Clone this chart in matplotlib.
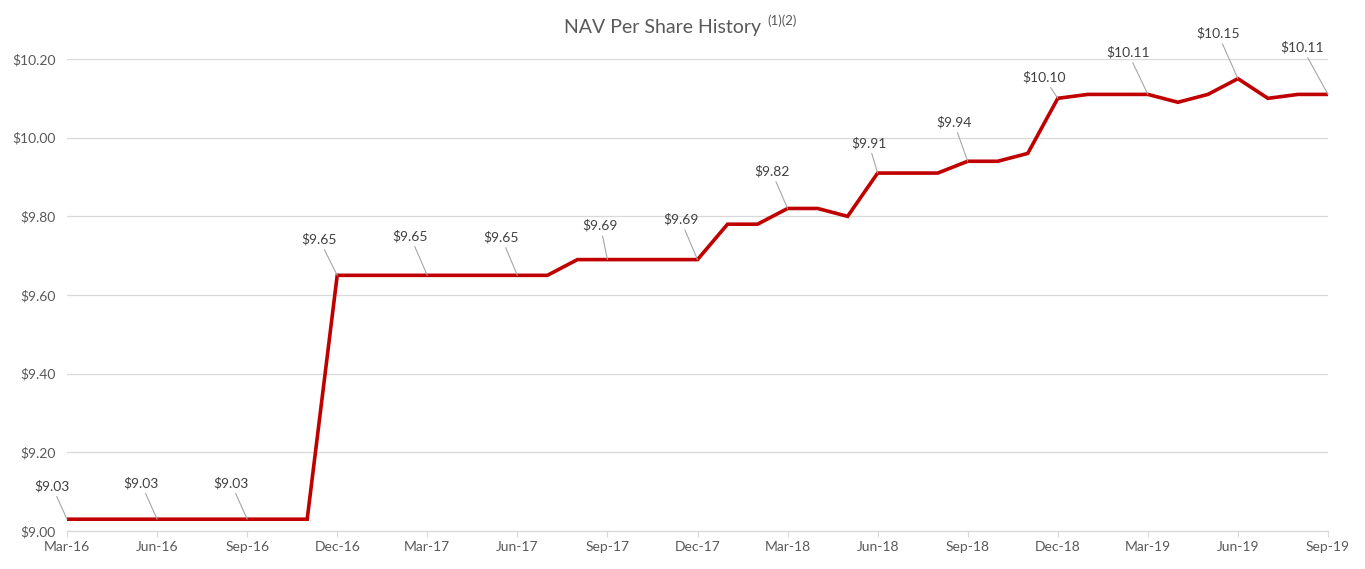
import matplotlib
matplotlib.use('Agg')
import matplotlib.pyplot as plt

# monthly NAV per share, Mar-16 .. Sep-19
months = ['Mar-16', 'Apr-16', 'May-16', 'Jun-16', 'Jul-16', 'Aug-16', 'Sep-16',
          'Oct-16', 'Nov-16', 'Dec-16', 'Jan-17', 'Feb-17', 'Mar-17', 'Apr-17',
          'May-17', 'Jun-17', 'Jul-17', 'Aug-17', 'Sep-17', 'Oct-17', 'Nov-17',
          'Dec-17', 'Jan-18', 'Feb-18', 'Mar-18', 'Apr-18', 'May-18', 'Jun-18',
          'Jul-18', 'Aug-18', 'Sep-18', 'Oct-18', 'Nov-18', 'Dec-18', 'Jan-19',
          'Feb-19', 'Mar-19', 'Apr-19', 'May-19', 'Jun-19', 'Jul-19', 'Aug-19',
          'Sep-19']
nav = [9.03, 9.03, 9.03, 9.03, 9.03, 9.03, 9.03, 9.03, 9.03,
       9.65, 9.65, 9.65, 9.65, 9.65, 9.65, 9.65, 9.65,
       9.69, 9.69, 9.69, 9.69, 9.69,
       9.78, 9.78, 9.82, 9.82, 9.80, 9.91, 9.91, 9.91,
       9.94, 9.94, 9.96, 10.10, 10.11, 10.11, 10.11, 10.09, 10.11,
       10.15, 10.10, 10.11, 10.11]

# quarter-end points that get a data label, with label offset in pixels
label_idx = [0, 3, 6, 9, 12, 15, 18, 21, 24, 27, 30, 33, 36, 39, 42]
label_off = [(-15, 33), (-16, 36), (-16, 36), (-18, 36), (-17, 39), (-16, 38),
             (-7, 34), (-17, 40), (-16, 37), (-9, 30), (-14, 39), (-14, 21),
             (-20, 42), (-20, 45), (-26, 47)]

yticks = [9.00, 9.20, 9.40, 9.60, 9.80, 10.00, 10.20]

plt.rcParams['font.family'] = ['Lato', 'DejaVu Sans']

fig = plt.figure(figsize=(13.65, 5.69), dpi=100)
ax = fig.add_axes([67 / 1365, 38 / 569, 1261 / 1365, 472 / 569])

x = list(range(len(nav)))
ax.plot(x, nav, color='#C00000', linewidth=2.6, solid_joinstyle='miter', zorder=3)

for i, (dx, dy) in zip(label_idx, label_off):
    ax.annotate(f'${nav[i]:.2f}', xy=(i, nav[i]), xytext=(dx, dy),
                textcoords='offset pixels', ha='center', va='center',
                fontsize=10, color='#404040',
                arrowprops=dict(arrowstyle='-', color='#a6a6a6', lw=0.8,
                                shrinkA=1, shrinkB=0))

ax.set_xlim(0, len(nav) - 1)
ax.set_ylim(9.0, 10.2)
ax.set_yticks(yticks)
ax.set_yticklabels([f'${v:.2f}' for v in yticks])
ax.set_xticks(label_idx)
ax.set_xticklabels([months[i] for i in label_idx])

ax.grid(axis='y', color='#d9d9d9', linewidth=0.9)
ax.set_axisbelow(True)
for side in ['top', 'right', 'left']:
    ax.spines[side].set_visible(False)
ax.spines['bottom'].set_color('#d9d9d9')
ax.spines['bottom'].set_linewidth(0.9)
ax.tick_params(axis='y', length=0, labelsize=10, labelcolor='#595959', pad=8)
ax.tick_params(axis='x', length=4, color='#d9d9d9', labelsize=10,
               labelcolor='#595959', pad=3)

fig.text(663 / 1365, 1 - 27 / 569, 'NAV Per Share History', ha='center',
         va='center', fontsize=14, color='#595959')
fig.text(767 / 1365, 1 - 21 / 569, '(1)(2)', ha='left', va='center',
         fontsize=9.5, color='#595959')

fig.savefig('out.png', dpi=100, facecolor='white')
